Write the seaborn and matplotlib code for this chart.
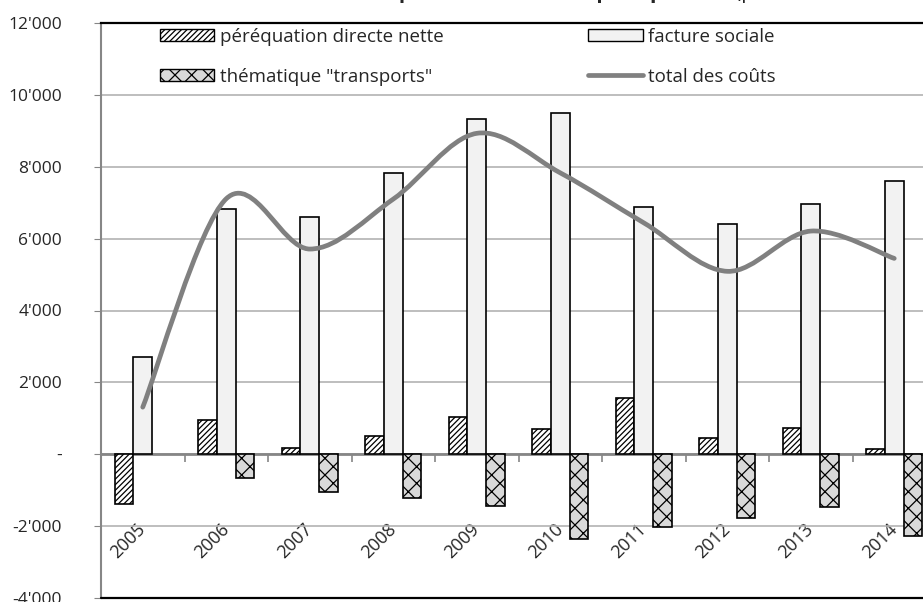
import numpy as np
import pandas as pd
import seaborn as sns
from matplotlib import pyplot as plt
from matplotlib.path import Path
from matplotlib.patches import PathPatch, Patch
from matplotlib.lines import Line2D
from matplotlib.ticker import FuncFormatter, FixedLocator

years = [str(y) for y in range(2005, 2015)]
perequation = [-1390, 940, 170, 500, 1050, 700, 1570, 450, 730, 140]
facture = [2700, 6820, 6590, 7830, 9330, 9490, 6890, 6420, 6960, 7590]
transports = [0, -650, -1050, -1230, -1450, -2360, -2020, -1780, -1480, -2280]

series_names = ['péréquation directe nette', 'facture sociale', 'thématique "transports"']
line_name = 'total des coûts'
fills = ['white', '#f2f2f2', '#d9d9d9']
hatches = ['//////', '', 'xx']

total = [p + f + t for p, f, t in zip(perequation, facture, transports)]

df = pd.DataFrame({
    'annee': years * 3,
    'serie': [series_names[0]] * 10 + [series_names[1]] * 10 + [series_names[2]] * 10,
    'valeur': perequation + facture + transports,
})


def smooth_path(xs, ys):
    # bezier segments like the smoothed line of a spreadsheet chart
    pts = np.column_stack([xs, ys]).astype(float)
    ext = np.vstack([pts[0], pts, pts[-1]])
    verts = [pts[0]]
    codes = [Path.MOVETO]
    for i in range(len(pts) - 1):
        p0, p1, p2, p3 = ext[i], ext[i + 1], ext[i + 2], ext[i + 3]
        verts += [p1 + (p2 - p0) / 6, p2 - (p3 - p1) / 6, p2]
        codes += [Path.CURVE4] * 3
    return Path(verts, codes)


sns.set_style('white')
plt.rcParams['font.family'] = ['Open Sans', 'DejaVu Sans']
plt.rcParams['hatch.linewidth'] = 0.9

fig = plt.figure(figsize=(9.23, 6.02), dpi=100)
ax = fig.add_axes([101 / 923, 4 / 602, 835 / 923, 575 / 602])

sns.barplot(data=df, x='annee', y='valeur', hue='serie', hue_order=series_names,
            palette=fills, width=0.666, saturation=1, errorbar=None,
            edgecolor='black', linewidth=1.2, legend=False, ax=ax, zorder=3)
for container, hatch in zip(ax.containers, hatches):
    for bar in container:
        bar.set_hatch(hatch)
        if bar.get_height() == 0:
            bar.set_visible(False)

ax.add_patch(PathPatch(smooth_path(np.arange(len(years)), total), facecolor='none',
                       edgecolor='#808080', linewidth=3.4, capstyle='round', zorder=4))

ax.set_xlim(-0.5, 9.5)
ax.set_ylim(-4000, 12000)
ax.set_yticks(range(-4000, 12001, 2000))
ax.yaxis.set_major_formatter(FuncFormatter(lambda v, _: '-' if v == 0 else f"{v:,.0f}".replace(',', "'")))
ax.grid(axis='y', color='#b3b3b3', linewidth=1.2, zorder=0)
ax.set_axisbelow(True)
ax.set_xlabel('')
ax.set_ylabel('')

ax.spines['left'].set_color('#868686')
ax.spines['left'].set_linewidth(1.5)
ax.spines['top'].set_color('black')
ax.spines['top'].set_linewidth(1.6)
ax.spines['right'].set_visible(False)
ax.spines['bottom'].set_position(('data', 0))
ax.spines['bottom'].set_color('#868686')
ax.spines['bottom'].set_linewidth(2)
ax.axhline(-4000, color='black', linewidth=1.6, zorder=5, clip_on=False)

ax.tick_params(axis='y', left=True, length=5, color='#868686', pad=23, labelsize=12.5)
ax.xaxis.set_major_locator(FixedLocator(np.arange(0.5, 9.5, 1)))
ax.xaxis.set_minor_locator(FixedLocator(np.arange(0, 10, 1)))
ax.set_xticklabels([], minor=False)
ax.set_xticklabels(years, minor=True, rotation=45, ha='right', va='center',
                   rotation_mode='anchor', fontsize=13)
ax.tick_params(axis='x', which='major', bottom=True, length=6, width=1.2, color='#868686')
ax.tick_params(axis='x', which='minor', bottom=False, length=0, pad=52)

handles = [Patch(facecolor=fills[0], edgecolor='black', hatch=hatches[0], linewidth=1),
           Patch(facecolor=fills[2], edgecolor='black', hatch=hatches[2], linewidth=1),
           Patch(facecolor=fills[1], edgecolor='black', hatch=hatches[1], linewidth=1),
           Line2D([], [], color='#808080', linewidth=3.4)]
labels = [series_names[0], series_names[2], series_names[1], line_name]
fig.legend(handles, labels, ncol=2, loc='upper left', bbox_to_anchor=(160 / 923, 1 - 28 / 602),
           frameon=False, fontsize=13.5, handlelength=2.9, handleheight=0.6, handletextpad=0.3,
           labelspacing=1.15, columnspacing=7.7, borderpad=0, borderaxespad=0)

fig.text(725 / 923, 1 + 2 / 602, 'Principaux transferts de péréquation', ha='right', va='baseline',
         fontsize=15, fontweight='bold')
fig.text(735 / 923, 1 + 2 / 602, '(pour les communes)', ha='left', va='baseline', fontsize=15)

fig.savefig('out.png', dpi=100)
